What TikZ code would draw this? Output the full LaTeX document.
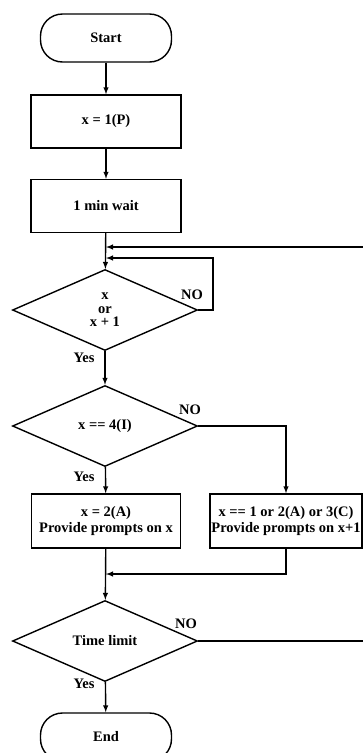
\documentclass[tikz,border=0pt]{standalone}
\usepackage{fontspec}
\setmainfont{Liberation Serif}
\usetikzlibrary{shapes,arrows,positioning}

\begin{document}
\begin{tikzpicture}[x=1pt,y=-1pt,>=latex,
    every node/.style={font=\bfseries\fontsize{14.5}{15.5}\selectfont},
    flow/.style={line width=1.4pt},
    term/.style={draw,line width=1.4pt,rounded corners=22pt,minimum width=131pt,minimum height=48pt},
    proc/.style={draw,line width=1.4pt,minimum width=150pt,minimum height=53pt,align=center,inner sep=1pt},
    decide/.style={draw,diamond,line width=1.4pt,minimum width=185pt,minimum height=81pt,aspect=2.3,inner sep=0pt,align=center},
    lab/.style={inner sep=0pt}]
    \useasboundingbox (0,0) rectangle (363,753);

    \node[term] (start) at (106,38) {Start};
    \node[proc] (p1) at (106,121.5) {x = 1(P)};
    \node[proc] (wait) at (106,206) {1 min wait};
    \node[decide] (d1) at (105,310) {x\\[-2pt]or\\[-2pt]x + 1};
    \node[decide] (d2) at (105,426) {x == 4(I)};
    \node[proc,minimum width=149pt,minimum height=54pt] (pa) at (106,521) {x = 2(A)\\Provide prompts on x};
    \node[proc,minimum width=152pt,minimum height=54pt] (pb) at (286,521) {x == 1 or 2(A) or 3(C)\\Provide prompts on x+1};
    \node[decide] (d3) at (105,641) {Time limit};
    \node[term] (end) at (106,737) {End};

    % branch labels
    \node[lab] (no1) at (192,295) {NO};
    \node[lab] (no2) at (190,410) {NO};
    \node[lab] (no3) at (186,624) {NO};
    \node[lab] (yes1) at (84,358) {Yes};
    \node[lab] (yes2) at (84,477) {Yes};
    \node[lab] (yes3) at (84,684) {Yes};

    \coordinate (m1) at (106,247);
    \coordinate (m2) at (106,258);
    \coordinate (m3) at (106,574);
    \coordinate (loop) at (213,258);
    \coordinate (r1) at (366,641);
    \coordinate (r2) at (366,247);

    \draw[flow,->] (start) -- (p1);
    \draw[flow,->] (p1) -- (wait);
    \draw[flow,->] (wait) -- (d1);
    \draw[flow,->] (d1.east) -| (loop) -- (m2);
    \draw[flow,->] (d1) -- (d2);
    \draw[flow,->] (d2.east) -| (pb);
    \draw[flow,->] (d2) -- (pa);
    \draw[flow,->] (pa) -- (d3);
    \draw[flow,->] (pb.south) |- (m3);
    \draw[flow,->] (d3) -- (end);
    \draw[flow,->] (d3.east) -- (r1) -- (r2) -- (m1);
\end{tikzpicture}
\end{document}
